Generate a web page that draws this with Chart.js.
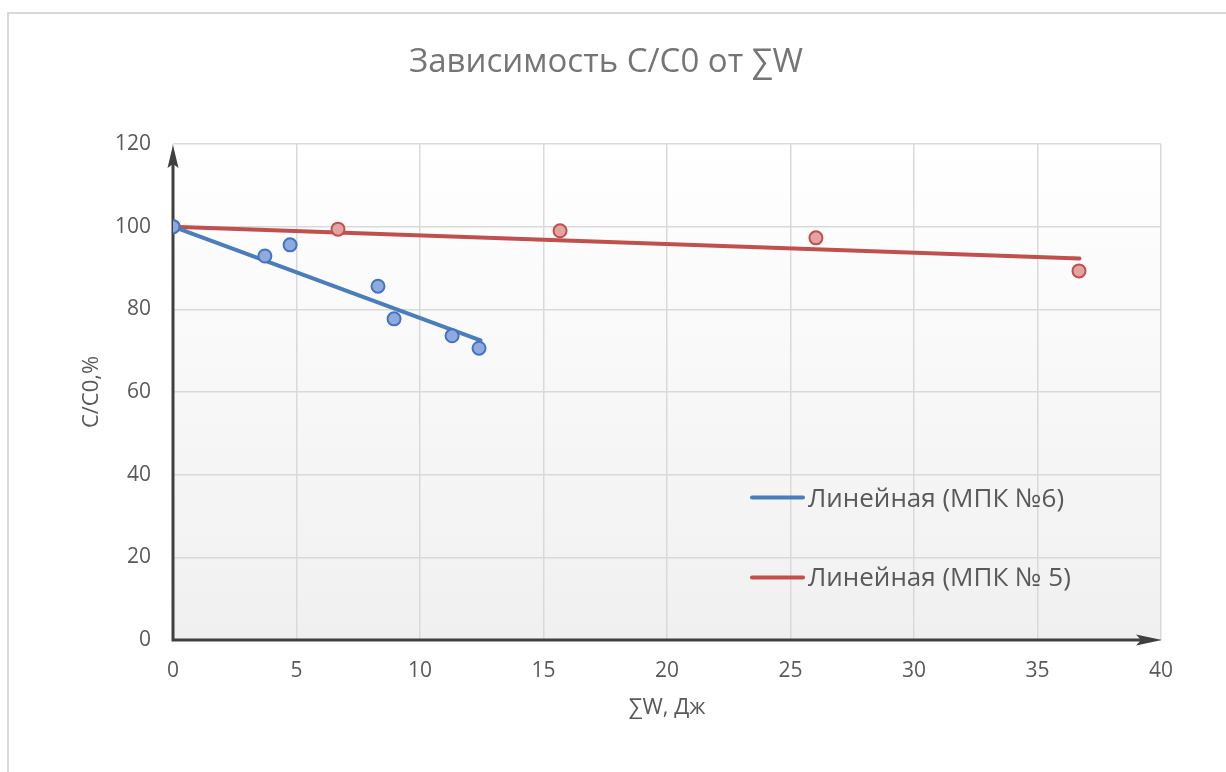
<!DOCTYPE html>
<html>
<head>
<meta charset="utf-8">
<script src="https://cdn.jsdelivr.net/npm/chart.js@4"></script>
<style>
  html, body { margin: 0; padding: 0; background: #ffffff; }
  #wrap { width: 1226px; height: 772px; }
</style>
</head>
<body>
<div id="wrap"><canvas id="chart" width="1226" height="772"></canvas></div>
<script>
// данные
const titleText = 'Зависимость C/C0 от ∑W';
const xTitle = '∑W, Дж';
const yTitle = 'C/C0,%';

const w6 = [0, 3.72, 4.74, 8.30, 8.95, 11.30, 12.39];
const c6 = [100, 92.9, 95.6, 85.6, 77.7, 73.6, 70.6];
const w5 = [0, 6.68, 15.67, 26.03, 36.68];
const c5 = [100, 99.4, 99.0, 97.3, 89.3];

// линии тренда (концы прочитаны по картинке)
const trend6X = [0, 12.45];
const trend6Y = [100, 72.5];
const trend5X = [0, 36.7];
const trend5Y = [100, 92.3];

const xTicks = [0, 5, 10, 15, 20, 25, 30, 35, 40];
const yTicks = [0, 20, 40, 60, 80, 100, 120];

const toPts = (xs, ys) => xs.map((x, i) => ({ x: x, y: ys[i] }));

const FONT = '"Open Sans", sans-serif';
const TXT = '#595959';

// рамка, фон области построения, оси со стрелками, заголовок и легенда
const decor = {
    id: 'decor',
    beforeDraw(chart) {
        const { ctx, chartArea: a } = chart;
        ctx.save();
        ctx.strokeStyle = '#d9d9d9';
        ctx.lineWidth = 2;
        ctx.strokeRect(8, 13, 1400, 1000);
        const g = ctx.createLinearGradient(0, a.top, 0, a.bottom);
        g.addColorStop(0, '#ffffff');
        g.addColorStop(1, '#f0f0f0');
        ctx.fillStyle = g;
        ctx.fillRect(a.left, a.top, a.right - a.left, a.bottom - a.top);
        ctx.restore();
    },
    beforeDatasetsDraw(chart) {
        const { ctx, scales: { x, y } } = chart;
        const x0 = x.getPixelForValue(0), y0 = y.getPixelForValue(0);
        const xEnd = x.getPixelForValue(40) + 1, yEnd = y.getPixelForValue(120) + 1;
        ctx.save();
        ctx.strokeStyle = '#404040';
        ctx.fillStyle = '#404040';
        ctx.lineWidth = 3;
        ctx.beginPath();
        ctx.moveTo(x0, y0 + 1.5);
        ctx.lineTo(x0, yEnd + 12);
        ctx.moveTo(x0 - 1.5, y0);
        ctx.lineTo(xEnd - 12, y0);
        ctx.stroke();
        // стрелка вверх
        ctx.beginPath();
        ctx.moveTo(x0, yEnd);
        ctx.lineTo(x0 + 5.5, yEnd + 23);
        ctx.lineTo(x0, yEnd + 19);
        ctx.lineTo(x0 - 5.5, yEnd + 23);
        ctx.closePath();
        ctx.fill();
        // стрелка вправо
        ctx.beginPath();
        ctx.moveTo(xEnd, y0);
        ctx.lineTo(xEnd - 26, y0 - 5.5);
        ctx.lineTo(xEnd - 21, y0);
        ctx.lineTo(xEnd - 26, y0 + 5.5);
        ctx.closePath();
        ctx.fill();
        ctx.restore();
    },
    afterDraw(chart) {
        const { ctx } = chart;
        ctx.save();
        ctx.fillStyle = '#757575';
        ctx.font = '33px ' + FONT;
        ctx.textAlign = 'center';
        ctx.textBaseline = 'alphabetic';
        ctx.fillText(titleText, 606, 72);

        // легенда только для линий тренда
        const items = chart.data.datasets.filter(d => d.type === 'line');
        const lineY = [497.5, 577.5];
        const baseY = [506.5, 585.5];
        ctx.font = '26px ' + FONT;
        ctx.textAlign = 'left';
        items.forEach((d, i) => {
            ctx.strokeStyle = d.borderColor;
            ctx.lineWidth = 4;
            ctx.lineCap = 'round';
            ctx.beginPath();
            ctx.moveTo(752, lineY[i]);
            ctx.lineTo(803, lineY[i]);
            ctx.stroke();
            ctx.fillStyle = TXT;
            ctx.fillText(d.label, 808, baseY[i]);
        });
        ctx.restore();
    }
};

new Chart(document.getElementById('chart').getContext('2d'), {
    type: 'scatter',
    data: {
        datasets: [
            {
                type: 'line',
                label: 'Линейная (МПК №6)',
                data: toPts(trend6X, trend6Y),
                borderColor: '#4a7ebb',
                borderWidth: 4,
                pointRadius: 0,
                borderCapStyle: 'round',
                order: 2
            },
            {
                type: 'line',
                label: 'Линейная (МПК № 5)',
                data: toPts(trend5X, trend5Y),
                borderColor: '#c0504d',
                borderWidth: 4,
                pointRadius: 0,
                borderCapStyle: 'round',
                order: 2
            },
            {
                label: 'МПК №6',
                data: toPts(w6, c6),
                backgroundColor: '#8faadc',
                borderColor: '#4472c4',
                borderWidth: 2,
                pointRadius: 6.5,
                order: 1
            },
            {
                label: 'МПК № 5',
                data: toPts(w5, c5),
                backgroundColor: '#e3a3a2',
                borderColor: '#c0504d',
                borderWidth: 2,
                pointRadius: 6.5,
                order: 1
            }
        ]
    },
    options: {
        responsive: false,
        animation: false,
        layout: { padding: { left: 0, top: 144, right: 65, bottom: 0 } },
        plugins: {
            legend: { display: false },
            title: { display: false },
            tooltip: { enabled: false }
        },
        scales: {
            x: {
                type: 'linear',
                min: 0,
                max: 40,
                afterFit: s => { s.height = 132; },
                afterBuildTicks: s => { s.ticks = xTicks.map(v => ({ value: v })); },
                grid: { color: '#d9d9d9', lineWidth: 1.5, drawTicks: false },
                border: { display: false },
                ticks: { color: TXT, font: { family: FONT, size: 21 }, padding: 18 },
                title: {
                    display: true, text: xTitle, color: TXT,
                    font: { family: FONT, size: 22 }, padding: { top: 0, bottom: 51 }
                }
            },
            y: {
                type: 'linear',
                min: 0,
                max: 120,
                afterFit: s => { s.width = 173; },
                afterBuildTicks: s => { s.ticks = yTicks.map(v => ({ value: v })); },
                grid: { color: '#d9d9d9', lineWidth: 1.5, drawTicks: false },
                border: { display: false },
                ticks: { color: TXT, font: { family: FONT, size: 21 }, padding: 22 },
                title: {
                    display: true, text: yTitle, color: TXT,
                    font: { family: FONT, size: 22 }, padding: { top: 79, bottom: 0 }
                }
            }
        }
    },
    plugins: [decor]
});
</script>
</body>
</html>
